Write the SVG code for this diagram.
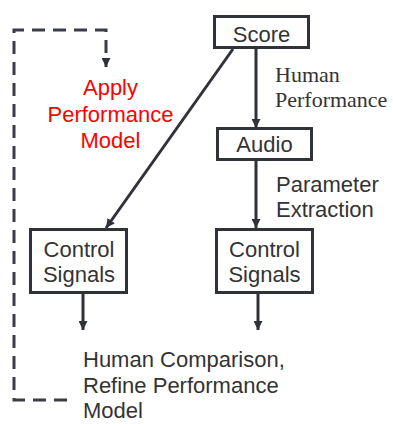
<svg xmlns="http://www.w3.org/2000/svg" width="393" height="424" viewBox="0 0 393 424">
<style>
.box{fill:#fff;stroke:#30323a;stroke-width:3}
.t{font-family:"Liberation Sans",Arial,sans-serif;font-size:22px;fill:#333}
.c{text-anchor:middle}
.red{fill:#ff0000}
.serif{font-family:"Liberation Serif","Times New Roman",serif;font-size:22px;fill:#333}
.ln{stroke:#30323a;stroke-width:3;fill:none}
.dash{stroke:#3a3c46;stroke-width:3;fill:none;stroke-dasharray:13 8}
</style>
<defs>
<marker id="ah" viewBox="0 0 10 10" refX="10" refY="5" markerWidth="9" markerHeight="9" markerUnits="userSpaceOnUse" orient="auto">
<path d="M0,0 L10,5 L0,10 Z" fill="#30323a"/>
</marker>
</defs>
<rect width="393" height="424" fill="#fff"/>
<g id="connectors">
<line class="ln" x1="256" y1="49" x2="256" y2="128" marker-end="url(#ah)"/>
<line class="ln" x1="256" y1="161" x2="256" y2="228" marker-end="url(#ah)"/>
<line class="ln" x1="233" y1="49" x2="106" y2="228" marker-end="url(#ah)"/>
<line class="ln" x1="83" y1="294" x2="83" y2="330" marker-end="url(#ah)"/>
<line class="ln" x1="258" y1="294" x2="258" y2="330" marker-end="url(#ah)"/>
<path class="dash" d="M67,400 L14,400 L14,30 L106,30 L106,62"/>
<line class="ln" x1="106" y1="58" x2="106" y2="67" marker-end="url(#ah)"/>
</g>
<g id="score">
<rect class="box" x="214.5" y="16.5" width="94" height="31"/>
<text class="t c" x="261.5" y="42">Score</text>
</g>
<g id="audio">
<rect class="box" x="217.5" y="128.5" width="94" height="31"/>
<text class="t c" x="264.5" y="152">Audio</text>
</g>
<g id="control-left">
<rect class="box" x="30.5" y="229.5" width="96" height="63"/>
<text class="t c" x="79" y="257">Control</text>
<text class="t c" x="79" y="282">Signals</text>
</g>
<g id="control-right">
<rect class="box" x="216.5" y="229.5" width="96" height="63"/>
<text class="t c" x="264.5" y="257">Control</text>
<text class="t c" x="264.5" y="282">Signals</text>
</g>
<g id="apply-model">
<text class="t c red" x="110.5" y="95">Apply</text>
<text class="t c red" x="110.5" y="121.5">Performance</text>
<text class="t c red" x="110.5" y="148">Model</text>
</g>
<g id="human-performance">
<text class="serif" x="275" y="82">Human</text>
<text class="serif" x="275" y="107">Performance</text>
</g>
<g id="parameter-extraction">
<text class="t" x="276" y="192">Parameter</text>
<text class="t" x="276" y="217">Extraction</text>
</g>
<g id="comparison">
<text class="t" x="83" y="367">Human Comparison,</text>
<text class="t" x="83" y="393">Refine Performance</text>
<text class="t" x="83" y="418">Model</text>
</g>
</svg>
